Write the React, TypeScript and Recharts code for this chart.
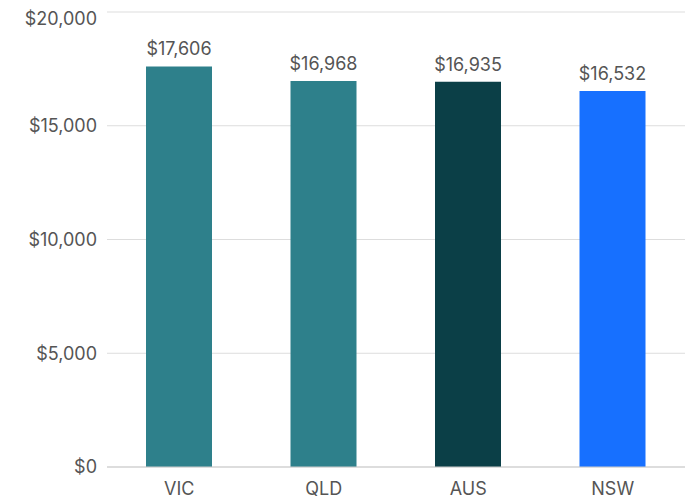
import { BarChart, Bar, XAxis, YAxis, CartesianGrid, Cell, LabelList } from 'recharts';

const states = ['VIC', 'QLD', 'AUS', 'NSW'];
const amounts = [17606, 16968, 16935, 16532];
const barColors = ['#2e808b', '#2e808b', '#0b3f47', '#1770ff'];
const yTicks = [0, 5000, 10000, 15000, 20000];

const data = states.map((state, i) => ({ state, amount: amounts[i] }));

const money = (v: number) => '$' + v.toLocaleString('en-US');

export default function App() {
    return (
        <div style={{ fontFamily: 'Inter, sans-serif' }}>
            <BarChart
                width={690}
                height={492}
                data={data}
                margin={{ top: 4, right: 13, bottom: 0, left: 0 }}
            >
                <CartesianGrid vertical={false} stroke="#dddddd" />
                <XAxis
                    dataKey="state"
                    tickLine={false}
                    axisLine={{ stroke: '#cccccc' }}
                    tick={{ fill: '#555555', fontSize: 18 }}
                    tickMargin={9}
                    height={33}
                />
                <YAxis
                    width={99}
                    domain={[0, 20000]}
                    ticks={yTicks}
                    tickFormatter={money}
                    tickLine={false}
                    axisLine={false}
                    tick={{ fill: '#555555', fontSize: 18 }}
                    tickMargin={4}
                />
                <Bar dataKey="amount" barSize={66} isAnimationActive={false}>
                    {data.map((d, i) => (
                        <Cell key={d.state} fill={barColors[i]} />
                    ))}
                    <LabelList
                        dataKey="amount"
                        position="top"
                        offset={11}
                        formatter={(v: any) => money(Number(v))}
                        style={{ fill: '#555555', fontSize: 18 }}
                    />
                </Bar>
            </BarChart>
        </div>
    );
}
